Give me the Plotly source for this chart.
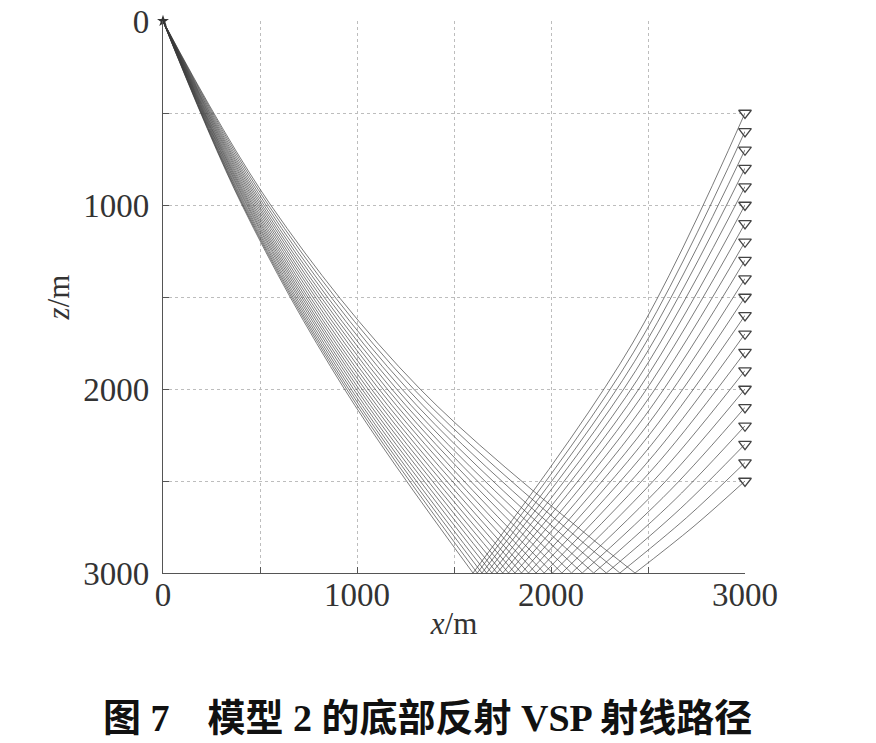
import plotly.graph_objects as go

# ---- data (metres) ----
source_x = [0]
source_z = [0]
well_x = 3000
receiver_z = [500, 600, 700, 800, 900, 1000, 1100, 1200, 1300, 1400, 1500,
              1600, 1700, 1800, 1900, 2000, 2100, 2200, 2300, 2400, 2500]
# reflection points on the bottom (z = 3000)
reflector_z = 3000
reflect_x = [1598, 1620, 1644, 1668, 1695, 1722, 1751, 1781, 1814, 1848, 1884,
             1923, 1965, 2008, 2056, 2106, 2161, 2220, 2285, 2355, 2433]
# downgoing leg: x where each ray crosses z = 1000 and z = 2000
down_z_a = 1000
down_z_b = 2000
down_x_a = [407, 411, 415, 420, 425, 431, 436, 442, 448, 454, 461,
            468, 476, 484, 492, 501, 510, 520, 531, 543, 555]
down_x_b = [935, 946, 957, 969, 982, 996, 1010, 1025, 1040, 1057, 1074,
            1093, 1113, 1134, 1156, 1179, 1204, 1231, 1260, 1292, 1325]
# upgoing leg: one point half-way up to the receiver
up_mid_z = [1750, 1800, 1850, 1900, 1950, 2000, 2050, 2100, 2150, 2200, 2250,
            2300, 2350, 2400, 2450, 2500, 2550, 2600, 2650, 2700, 2750]
up_mid_x = [2421, 2426, 2431, 2437, 2445, 2453, 2461, 2471, 2482, 2494, 2506,
            2520, 2536, 2553, 2571, 2592, 2615, 2640, 2667, 2698, 2732]

tick_vals = [0, 500, 1000, 1500, 2000, 2500, 3000]
tick_text = ["0", "", "1000", "", "2000", "", "3000"]

# ---- build ray polylines ----
rx, rz = [], []
for i in range(len(receiver_z)):
    rx += [source_x[0], down_x_a[i], down_x_b[i], reflect_x[i], None]
    rz += [source_z[0], down_z_a, down_z_b, reflector_z, None]
    rx += [reflect_x[i], up_mid_x[i], well_x, None]
    rz += [reflector_z, up_mid_z[i], receiver_z[i], None]

fig = go.Figure()
fig.add_trace(go.Scatter(
    x=rx, y=rz, mode="lines", line=dict(color="rgba(60,60,60,0.85)", width=0.8, shape="spline"),
    connectgaps=False, hoverinfo="skip", showlegend=False))
fig.add_trace(go.Scatter(
    x=[well_x] * len(receiver_z), y=receiver_z, mode="markers",
    marker=dict(symbol="triangle-down-open", size=11, color="#444", line=dict(width=1.3, color="#444")),
    cliponaxis=False, showlegend=False))
fig.add_trace(go.Scatter(
    x=source_x, y=source_z, mode="markers",
    marker=dict(symbol="star", size=9, color="#333"),
    cliponaxis=False, showlegend=False))

serif = "Liberation Serif, Times New Roman, serif"
axis_common = dict(
    tickvals=tick_vals, ticktext=tick_text, automargin=False,
    ticks="inside", ticklen=6, tickcolor="#555", tickwidth=1,
    showgrid=True, gridcolor="#bdbdbd", griddash="dot", gridwidth=1,
    zeroline=False, showline=True, linecolor="#555", linewidth=1.2,
    tickfont=dict(family=serif, size=33, color="#333"),
)
fig.update_xaxes(range=[0, 3000], ticklabelstandoff=-8,
                 title=dict(text="<i>x</i>/m", font=dict(family=serif, size=31, color="#333"), standoff=0),
                 **axis_common)
fig.update_yaxes(range=[3000, 0], ticklabelstandoff=6,
                 title=dict(text="<i>z</i>/m", font=dict(family=serif, size=31, color="#333"), standoff=4),
                 **axis_common)

fig.add_annotation(
    xref="paper", yref="paper", x=0.455, y=-0.263, xanchor="center", yanchor="middle",
    text="<b>图 7　模型 2 的底部反射 VSP 射线路径</b>", showarrow=False,
    font=dict(family="Liberation Serif, Noto Sans CJK SC", size=38, color="#111"))

fig.update_layout(
    width=876, height=743, margin=dict(l=163, r=131, t=21, b=170),
    plot_bgcolor="white", paper_bgcolor="white", showlegend=False)

fig.write_html("out.html")
